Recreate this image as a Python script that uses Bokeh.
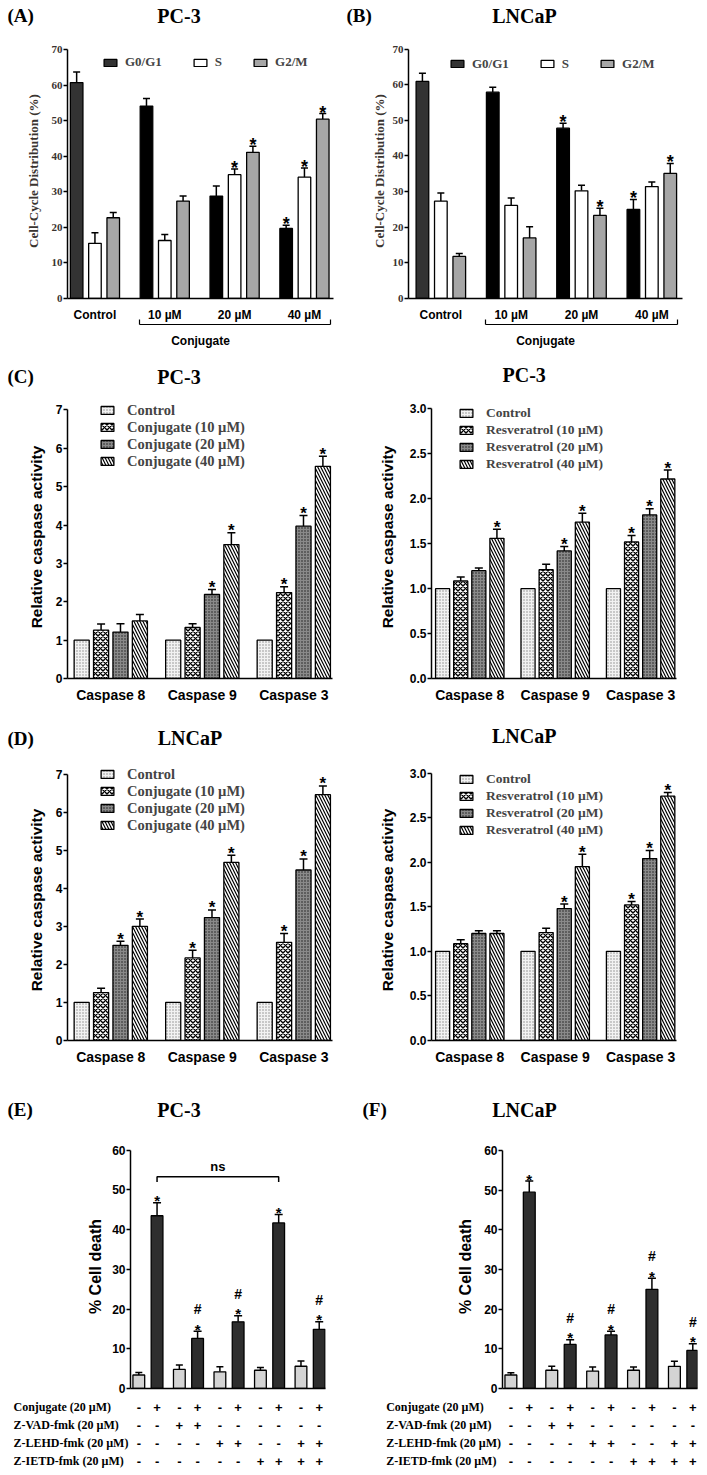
from bokeh.plotting import figure
from bokeh.models import (ColumnDataSource, Range1d, FixedTicker, Legend,
                          LegendItem, Whisker, TeeHead, LinearAxis, PrintfTickFormatter)
from bokeh.layouts import column, row
from bokeh.embed import file_html
from bokeh.resources import INLINE
from bokeh.core.properties import value

# ---------------- data ----------------
cycle_groups = ["Control", "10 µM", "20 µM", "40 µM"]
cycle_phases = ["G0/G1", "S", "G2/M"]

pc3_g0g1 = [60.7, 54.1, 28.8, 19.7]
pc3_g0g1_err = [3.0, 2.1, 2.8, 0.9]
pc3_s = [15.5, 16.3, 34.8, 34.1]
pc3_s_err = [3.0, 1.7, 1.6, 2.6]
pc3_g2m = [22.7, 27.4, 41.1, 50.4]
pc3_g2m_err = [1.5, 1.4, 1.7, 1.6]
pc3_cycle_sig = [["", "", "", "*"], ["", "", "*", "*"], ["", "", "*", "*"]]

lncap_g0g1 = [60.9, 57.9, 47.8, 25.0]
lncap_g0g1_err = [2.3, 1.4, 1.4, 2.8]
lncap_s = [27.3, 26.1, 30.2, 31.4]
lncap_s_err = [2.3, 2.1, 1.6, 1.3]
lncap_g2m = [11.8, 17.0, 23.3, 35.1]
lncap_g2m_err = [0.8, 3.1, 2.0, 2.8]
lncap_cycle_sig = [["", "", "*", "*"], ["", "", "", ""], ["", "", "*", "*"]]

caspases = ["Caspase 8", "Caspase 9", "Caspase 3"]
conj_labels = ["Control", "Conjugate (10 µM)", "Conjugate (20 µM)", "Conjugate (40 µM)"]
resv_labels = ["Control", "Resveratrol (10 µM)", "Resveratrol (20 µM)", "Resveratrol (40 µM)"]
control_activity = [1.0, 1.0, 1.0]
control_err = [0.0, 0.0, 0.0]
no_sig = ["", "", ""]

pc3_conj_10 = [1.26, 1.33, 2.24]
pc3_conj_10_err = [0.16, 0.10, 0.15]
pc3_conj_20 = [1.21, 2.19, 3.97]
pc3_conj_20_err = [0.22, 0.13, 0.28]
pc3_conj_40 = [1.50, 3.49, 5.53]
pc3_conj_40_err = [0.17, 0.31, 0.26]
pc3_conj_sig = [no_sig, ["", "", "*"], ["", "*", "*"], ["", "*", "*"]]

pc3_resv_10 = [1.085, 1.21, 1.52]
pc3_resv_10_err = [0.045, 0.06, 0.07]
pc3_resv_20 = [1.20, 1.42, 1.82]
pc3_resv_20_err = [0.03, 0.05, 0.07]
pc3_resv_40 = [1.56, 1.74, 2.22]
pc3_resv_40_err = [0.10, 0.10, 0.10]
pc3_resv_sig = [no_sig, ["", "", "*"], ["", "*", "*"], ["*", "*", "*"]]

lncap_conj_10 = [1.26, 2.17, 2.58]
lncap_conj_10_err = [0.11, 0.20, 0.23]
lncap_conj_20 = [2.50, 3.23, 4.48]
lncap_conj_20_err = [0.11, 0.20, 0.29]
lncap_conj_40 = [3.00, 4.68, 6.46]
lncap_conj_40_err = [0.19, 0.19, 0.23]
lncap_conj_sig = [no_sig, ["", "*", "*"], ["*", "*", "*"], ["*", "*", "*"]]

lncap_resv_10 = [1.086, 1.21, 1.52]
lncap_resv_10_err = [0.045, 0.05, 0.04]
lncap_resv_20 = [1.20, 1.48, 2.04]
lncap_resv_20_err = [0.03, 0.05, 0.09]
lncap_resv_40 = [1.20, 1.95, 2.74]
lncap_resv_40_err = [0.03, 0.14, 0.04]
lncap_resv_sig = [no_sig, ["", "", "*"], ["", "*", "*"], ["", "*", "*"]]

treat_rows = ["Conjugate (20 µM)", "Z-VAD-fmk (20 µM)", "Z-LEHD-fmk (20 µM)", "Z-IETD-fmk (20 µM)"]
conj_signs = ["-", "+", "-", "+", "-", "+", "-", "+", "-", "+"]
zvad_signs = ["-", "-", "+", "+", "-", "-", "-", "-", "-", "-"]
zlehd_signs = ["-", "-", "-", "-", "+", "+", "-", "-", "+", "+"]
zietd_signs = ["-", "-", "-", "-", "-", "-", "+", "+", "+", "+"]

pc3_death_vehicle = [3.4, 4.8, 4.2, 4.6, 5.6]
pc3_death_vehicle_err = [0.6, 1.1, 1.3, 0.7, 1.3]
pc3_death_conj = [43.5, 12.6, 16.8, 41.7, 14.9]
pc3_death_conj_err = [3.3, 1.8, 1.5, 2.1, 1.9]
pc3_death_star = ["*", "*", "*", "*", "*"]
pc3_death_hash = ["", "#", "#", "", "#"]
pc3_ns_level = 53.3

lncap_death_vehicle = [3.4, 4.6, 4.4, 4.6, 5.6]
lncap_death_vehicle_err = [0.6, 1.0, 1.0, 0.8, 1.3]
lncap_death_conj = [49.5, 11.1, 13.5, 25.0, 9.6]
lncap_death_conj_err = [2.8, 1.2, 0.9, 2.8, 1.7]
lncap_death_star = ["*", "*", "*", "*", "*"]
lncap_death_hash = ["", "#", "#", "#", "#"]

# panel headings: (text, page x, page y, size, align)
row1_titles = [("(A)", 7, 15, "19px", "left"), ("PC-3", 178.5, 15, "20px", "center"),
               ("(B)", 346, 15, "19px", "left"), ("LNCaP", 524, 15, "20px", "center")]
row2_titles = [("(C)", 7, 376, "19px", "left"), ("PC-3", 178.5, 376, "20px", "center"),
               ("PC-3", 523.7, 374, "20px", "center")]
row3_titles = [("(D)", 7, 737.5, "19px", "left"), ("LNCaP", 189.5, 737.5, "20px", "center"),
               ("LNCaP", 523.7, 735.5, "20px", "center")]
row4_titles = [("(E)", 7, 1109, "19px", "left"), ("PC-3", 178.5, 1109, "20px", "center"),
               ("(F)", 362, 1109, "19px", "left"), ("LNCaP", 524, 1109, "20px", "center")]

# ---------------- styling helpers ----------------
SERIF = "Liberation Serif"
SANS = "Liberation Sans"
AXIS_GRAY = "#3a3430"
PAGE_W = 707
LEFT_W = 345
RIGHT_W = PAGE_W - LEFT_W


def heading_strip(y0, h, titles):
    p = figure(width=PAGE_W, height=h, x_range=Range1d(0, PAGE_W),
               y_range=Range1d(y0 + h, y0), min_border_left=0, min_border_right=0,
               min_border_top=0, min_border_bottom=0, x_axis_type=None, y_axis_type=None,
               output_backend="svg", toolbar_location=None)
    p.xgrid.visible = False
    p.ygrid.visible = False
    p.outline_line_color = None
    for (t, tx, ty, size, al) in titles:
        p.text(x=[tx], y=[ty], text=[t], text_font=value(SERIF), text_font_style="bold",
               text_font_size=size, text_align=al, text_baseline="middle",
               text_color="black")
    return p


def make_bar_fig(x0, y0, w, h, fl, fr, ya, yz, ymax, xr, head):
    L = int(round(fl - x0))
    R = int(round(x0 + w - fr))
    T = int(round(ya - head - y0))
    B = int(round(y0 + h - yz))
    ppu = (yz - ya) / ymax
    frame_h = h - T - B
    p = figure(width=w, height=h, x_range=Range1d(xr[0], xr[1]),
               y_range=Range1d(0, frame_h / ppu),
               min_border_left=L, min_border_right=R,
               min_border_top=T, min_border_bottom=B,
               output_backend="svg", toolbar_location=None)
    p.xgrid.visible = False
    p.ygrid.visible = False
    p.outline_line_color = None
    p.background_fill_color = "white"
    p.border_fill_color = "white"
    p._geom = dict(x0=x0, y0=y0, fl=x0 + L, fb=y0 + h - B)
    return p


def setup_yaxis(p, ticks, ymax, label, tick_font, tick_size, lab_font, lab_size,
                lab_standoff, color="black", fmt=None):
    ax = p.yaxis[0]
    ax.ticker = FixedTicker(ticks=ticks)
    ax.bounds = (0, ymax)
    ax.major_tick_out = 4
    ax.major_tick_in = 0
    ax.minor_tick_out = 0
    ax.minor_tick_in = 0
    ax.axis_line_width = 1.5
    ax.major_tick_line_width = 1.5
    ax.major_label_standoff = 1
    ax.major_label_text_font = tick_font
    ax.major_label_text_font_size = tick_size
    ax.major_label_text_font_style = "bold"
    ax.major_label_text_color = color
    ax.axis_label = label
    ax.axis_label_text_font = lab_font
    ax.axis_label_text_font_size = lab_size
    ax.axis_label_text_font_style = "bold"
    ax.axis_label_text_color = color
    ax.axis_label_standoff = lab_standoff
    if fmt:
        ax.formatter = PrintfTickFormatter(format=fmt)


def setup_xaxis(p, ticks, labels, font, size, standoff):
    ax = p.xaxis[0]
    ax.ticker = FixedTicker(ticks=ticks)
    if labels:
        ax.major_label_overrides = dict(zip(ticks, labels))
    ax.major_tick_out = 0
    ax.major_tick_in = 0
    ax.minor_tick_out = 0
    ax.minor_tick_in = 0
    ax.axis_line_width = 1.5
    ax.major_label_standoff = standoff
    ax.major_label_text_font = font
    ax.major_label_text_font_size = size
    ax.major_label_text_font_style = "bold"
    ax.major_label_text_color = "black"


def add_err(p, xs, tops, errs, head):
    keep = [i for i, e in enumerate(errs) if e > 0]
    if not keep:
        return
    src = ColumnDataSource(dict(x=[xs[i] for i in keep],
                                lo=[tops[i] for i in keep],
                                hi=[tops[i] + errs[i] for i in keep]))
    p.add_layout(Whisker(source=src, base="x", lower="lo", upper="hi", dimension="height",
                         line_width=1.5, line_color="black",
                         upper_head=TeeHead(size=head, line_width=1.5, line_color="black"),
                         lower_head=None))


def add_sig(p, xs, tops, errs, sig, size, yoff):
    keep = [i for i, s in enumerate(sig) if s]
    if not keep:
        return
    src = ColumnDataSource(dict(x=[xs[i] for i in keep],
                                y=[tops[i] + errs[i] for i in keep],
                                s=[sig[i] for i in keep]))
    p.text(x="x", y="y", text="s", source=src, text_font=value(SANS),
           text_font_style="bold", text_font_size=size, text_align="center",
           text_baseline="alphabetic", y_offset=yoff, text_color="black")


# ---------------- cell cycle panels ----------------
def cycle_panel(x0, w, fl, fr, yz, xr, vals, errs, sigs, leg_x, leg_yc, lab_standoff):
    p = make_bar_fig(x0, 30, w, 322, fl, fr, 49, yz, 70, xr, 6)
    g = p._geom
    offs = [-0.262, 0.0, 0.262]
    fills = [["#333333", "#000000", "#000000", "#000000"],
             ["white"] * 4, ["#a6a6a6"] * 4]
    items = []
    for k in range(3):
        xs = [i + offs[k] for i in range(len(cycle_groups))]
        src = ColumnDataSource(dict(x=xs, top=vals[k], c=fills[k]))
        r = p.vbar(x="x", top="top", bottom=0, width=0.18, source=src,
                   fill_color="c", line_color="black", line_width=1.3)
        items.append(LegendItem(label=cycle_phases[k], renderers=[r]))
        add_err(p, xs, vals[k], errs[k], 7)
        add_sig(p, xs, vals[k], errs[k], sigs[k], "18px", -1)
    leg = Legend(items=items, orientation="horizontal",
                 location=(leg_x - g["fl"], g["fb"] - (leg_yc + 7.5)),
                 glyph_width=16, glyph_height=9, label_standoff=7, spacing=30,
                 label_height=15, label_width=0, padding=0, margin=0,
                 border_line_color=None, background_fill_alpha=0,
                 label_text_font=SERIF, label_text_font_size="13px",
                 label_text_font_style="bold")
    p.add_layout(leg)
    setup_yaxis(p, list(range(0, 71, 10)), 70, "Cell-Cycle Distribution (%)",
                SERIF, "11px", SERIF, "13px", lab_standoff, color=AXIS_GRAY)
    setup_xaxis(p, list(range(len(cycle_groups))), cycle_groups, SANS, "12px", 9)
    b0, b1 = 1 - 0.36, 3 + 0.37
    br = LinearAxis(ticker=FixedTicker(ticks=[], minor_ticks=[b0, b1]),
                    bounds=(b0 - 0.002, b1 + 0.002),
                    major_tick_in=0, major_tick_out=0, minor_tick_in=5, minor_tick_out=0,
                    minor_tick_line_width=1.2, axis_line_width=1.2,
                    major_label_standoff=0,
                    axis_label="Conjugate", axis_label_standoff=9,
                    axis_label_text_font=SANS, axis_label_text_font_size="12px",
                    axis_label_text_font_style="bold", axis_label_text_color="black")
    p.add_layout(br, "below")
    return p


A = cycle_panel(0, LEFT_W, 66.7, 333.3, 299, (-0.393, 3.416),
                [pc3_g0g1, pc3_s, pc3_g2m], [pc3_g0g1_err, pc3_s_err, pc3_g2m_err],
                pc3_cycle_sig, 102, 63.8, 8)
B = cycle_panel(LEFT_W, RIGHT_W, 408.3, 682.3, 298.5, (-0.46, 3.436),
                [lncap_g0g1, lncap_s, lncap_g2m], [lncap_g0g1_err, lncap_s_err, lncap_g2m_err],
                lncap_cycle_sig, 449, 64, 3)

# ---------------- caspase panels ----------------
HATCH = [dict(fill_color="#f2f2f2", hatch_pattern="dot", hatch_color="#8a8a8a",
              hatch_scale=3, hatch_weight=0.6),
         dict(fill_color="white", hatch_pattern="diagonal_cross", hatch_color="black",
              hatch_scale=5, hatch_weight=1.4),
         dict(fill_color="#8a8a8a", hatch_pattern="dot", hatch_color="#1a1a1a",
              hatch_scale=3, hatch_weight=1.1),
         dict(fill_color="white", hatch_pattern="left_diagonal_line", hatch_color="black",
              hatch_scale=6, hatch_weight=1.2)]


def caspase_panel(x0, y0, w, h, fl, fr, ya, yz, ymax, ticks, fmt, xr, vals, errs, sigs,
                  labels, leg_x, leg_yc, leg_size, lab_standoff):
    p = make_bar_fig(x0, y0, w, h, fl, fr, ya, yz, ymax, xr, 14)
    g = p._geom
    offs = [-0.318, -0.106, 0.106, 0.318]
    items = []
    for k in range(4):
        xs = [i + offs[k] for i in range(len(caspases))]
        src = ColumnDataSource(dict(x=xs, top=vals[k]))
        r = p.vbar(x="x", top="top", bottom=0, width=0.165, source=src,
                   line_color="black", line_width=1.3, **HATCH[k])
        items.append(LegendItem(label=labels[k], renderers=[r]))
        add_err(p, xs, vals[k], errs[k], 8)
        add_sig(p, xs, vals[k], errs[k], sigs[k], "17px", -2)
    item_h = 17
    top = leg_yc - item_h / 2
    leg = Legend(items=items, orientation="vertical",
                 location=(leg_x - g["fl"], g["fb"] - (top + 4 * item_h)),
                 glyph_width=16, glyph_height=10, label_standoff=12, spacing=0,
                 label_height=item_h, label_width=0, padding=0, margin=0,
                 border_line_color=None, background_fill_alpha=0,
                 label_text_font=SERIF, label_text_font_size=leg_size,
                 label_text_font_style="bold")
    p.add_layout(leg)
    setup_yaxis(p, ticks, ymax, "Relative caspase activity", SANS, "12px", SANS,
                "15.5px", lab_standoff, fmt=fmt)
    setup_xaxis(p, list(range(len(caspases))), caspases, SANS, "14px", 8)
    return p


ticks7 = [0, 1, 2, 3, 4, 5, 6, 7]
ticks3 = [0, 0.5, 1.0, 1.5, 2.0, 2.5, 3.0]

C1 = caspase_panel(0, 388, LEFT_W, 317, 66.7, 331.7, 409, 678.5, 7, ticks7, None, (-0.473, 2.423),
                   [control_activity, pc3_conj_10, pc3_conj_20, pc3_conj_40],
                   [control_err, pc3_conj_10_err, pc3_conj_20_err, pc3_conj_40_err],
                   pc3_conj_sig, conj_labels, 99, 411, "14.5px", 8)
C2 = caspase_panel(LEFT_W, 388, RIGHT_W, 317, 430.7, 675.7, 406.7, 678.2, 3, ticks3, "%.1f",
                   (-0.448, 2.42),
                   [control_activity, pc3_resv_10, pc3_resv_20, pc3_resv_40],
                   [control_err, pc3_resv_10_err, pc3_resv_20_err, pc3_resv_40_err],
                   pc3_resv_sig, resv_labels, 458, 413, "13.5px", 11)
D1 = caspase_panel(0, 750, LEFT_W, 320, 66.7, 331.7, 773.3, 1041.6, 7, ticks7, None,
                   (-0.473, 2.423),
                   [control_activity, lncap_conj_10, lncap_conj_20, lncap_conj_40],
                   [control_err, lncap_conj_10_err, lncap_conj_20_err, lncap_conj_40_err],
                   lncap_conj_sig, conj_labels, 99, 776, "14.5px", 8)
D2 = caspase_panel(LEFT_W, 750, RIGHT_W, 320, 430.7, 675.7, 772.7, 1040.2, 3, ticks3, "%.1f",
                   (-0.448, 2.42),
                   [control_activity, lncap_resv_10, lncap_resv_20, lncap_resv_40],
                   [control_err, lncap_resv_10_err, lncap_resv_20_err, lncap_resv_40_err],
                   lncap_resv_sig, resv_labels, 458, 779, "13.5px", 11)

# ---------------- cell death panels ----------------
PAIR_OFF = 0.225


def death_panel(x0, w, fl, fr, yz, xr, veh, veh_err, conj, conj_err, star, hsh,
                lab_standoff, ns_level=None):
    p = make_bar_fig(x0, 1122, w, 275, fl, fr, 1150, yz, 60, xr, 6)
    n = len(veh)
    xl = [i - PAIR_OFF for i in range(n)]
    xd = [i + PAIR_OFF for i in range(n)]
    p.vbar(x=xl, top=veh, bottom=0, width=0.29, fill_color="#d4d4d4",
           line_color="black", line_width=1.3)
    p.vbar(x=xd, top=conj, bottom=0, width=0.29, fill_color="#2e2e2e",
           line_color="black", line_width=1.3)
    add_err(p, xl, veh, veh_err, 7)
    add_err(p, xd, conj, conj_err, 8)
    add_sig(p, xd, conj, conj_err, star, "15px", -2)
    add_sig(p, xd, conj, conj_err, hsh, "14px", -22)
    if ns_level is not None:
        x1, x4 = xd[0], xd[3]
        p.line([x1, x1, x4, x4], [ns_level - 1.3, ns_level, ns_level, ns_level - 1.3],
               line_color="black", line_width=1.5)
        p.text(x=[(x1 + x4) / 2], y=[ns_level], text=["ns"], text_font=value(SANS),
               text_font_style="bold", text_font_size="13px", text_align="center",
               text_baseline="bottom", y_offset=-3, text_color="black")
    setup_yaxis(p, list(range(0, 61, 10)), 60, "% Cell death", SANS, "12px", SANS, "16px",
                lab_standoff)
    setup_xaxis(p, [], None, SANS, "12px", 0)
    return p, xl, xd


E, e_xl, e_xd = death_panel(0, LEFT_W, 130, 325, 1388.3, (-0.43, 4.38),
                            pc3_death_vehicle, pc3_death_vehicle_err,
                            pc3_death_conj, pc3_death_conj_err, pc3_death_star, pc3_death_hash,
                            5, ns_level=pc3_ns_level)
F, f_xl, f_xd = death_panel(LEFT_W, RIGHT_W, 502.3, 697.5, 1389, (-0.43, 4.34),
                            lncap_death_vehicle, lncap_death_vehicle_err,
                            lncap_death_conj, lncap_death_conj_err, lncap_death_star,
                            lncap_death_hash, 7)

TABLE_Y0 = 1397
TABLE_H = 78
ROW_STEP = 18.0
FIRST_ROW = 9.7


def table_fig(x0, w, fr, xr_bar, bar_fl, label_left, xl, xd):
    ppu = (fr - bar_fl) / (xr_bar[1] - xr_bar[0])
    x_start = xr_bar[0] - (bar_fl - x0) / ppu
    R = int(round(x0 + w - fr))
    y_top = -FIRST_ROW / ROW_STEP
    p = figure(width=w, height=TABLE_H, x_range=Range1d(x_start, xr_bar[1]),
               y_range=Range1d(y_top + TABLE_H / ROW_STEP, y_top),
               min_border_left=0, min_border_right=R,
               min_border_top=0, min_border_bottom=0, x_axis_type=None, y_axis_type=None,
               output_backend="svg", toolbar_location=None)
    p.xgrid.visible = False
    p.ygrid.visible = False
    p.outline_line_color = None
    xs = []
    for i in range(len(xl)):
        xs += [xl[i], xd[i]]
    rows = [conj_signs, zvad_signs, zlehd_signs, zietd_signs]
    sx, sy, st = [], [], []
    for r, signs in enumerate(rows):
        sx += xs
        sy += [r] * len(xs)
        st += signs
    p.text(x=sx, y=sy, text=st, text_font=value(SANS), text_font_style="bold",
           text_font_size="13px", text_align="center", text_baseline="middle",
           text_color="black")
    lx = x_start + (label_left - x0) / ppu
    p.text(x=[lx] * len(treat_rows), y=list(range(len(treat_rows))), text=treat_rows,
           text_font=value(SERIF), text_font_style="bold", text_font_size="12px",
           text_align="left", text_baseline="middle", text_color="black")
    return p


Et = table_fig(0, LEFT_W, 325, (-0.43, 4.38), 130, 13, e_xl, e_xd)
Ft = table_fig(LEFT_W, RIGHT_W, 697.5, (-0.43, 4.34), 502.3, 385.7, f_xl, f_xd)

S1 = heading_strip(0, 30, row1_titles)
S2 = heading_strip(352, 36, row2_titles)
S3 = heading_strip(705, 45, row3_titles)
S4 = heading_strip(1070, 52, row4_titles)

layout = column(S1, row(A, B), S2, row(C1, C2), S3, row(D1, D2), S4, row(E, F), row(Et, Ft))
open("out.html", "w").write(file_html(layout, INLINE))
